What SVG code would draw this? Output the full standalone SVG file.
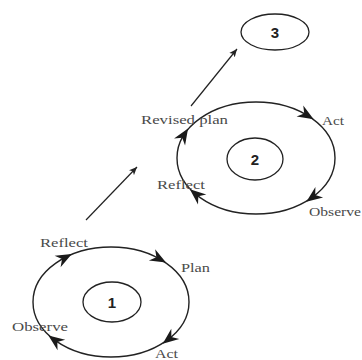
<svg xmlns="http://www.w3.org/2000/svg" width="362" height="360" viewBox="0 0 362 360">
<style>
.ring{fill:none;stroke:#222;stroke-width:1.4}
.core{fill:none;stroke:#222;stroke-width:1.3}
.lbl{font-family:"Liberation Serif","Times New Roman",serif;font-size:12px;fill:#4a4a4a}
.num{font-family:"Liberation Sans",Arial,sans-serif;font-size:15px;font-weight:bold;fill:#222;text-anchor:middle}
.ah{fill:#1a1a1a}
.link{stroke:#222;stroke-width:1.2;fill:none}
</style>
<defs>
<path id="barb" d="M8,0 L-8,-6.5 L-3,0 L-8,6.5 Z"/>
<marker id="tip" markerWidth="10" markerHeight="8" refX="8" refY="4" orient="auto" markerUnits="userSpaceOnUse">
<path d="M0,0.5 L8,4 L0,7.5 L2,4 Z" fill="#222"/>
</marker>
</defs>
<rect width="362" height="360" fill="#fff"/>
<g id="connectors">
<line class="link" x1="86" y1="220" x2="137" y2="167" marker-end="url(#tip)"/>
<line class="link" x1="191" y1="106" x2="237" y2="49" marker-end="url(#tip)"/>
</g>
<g id="cycle1">
<ellipse class="ring" cx="111" cy="302" rx="78" ry="55"/>
<use href="#barb" class="ah" transform="translate(64.7,257.7) rotate(-27.5)"/>
<use href="#barb" class="ah" transform="translate(159,258.7) rotate(29)"/>
<use href="#barb" class="ah" transform="translate(169,338.8) rotate(142)"/>
<use href="#barb" class="ah" transform="translate(54.9,340.2) rotate(216)"/>
<text class="lbl" x="40" y="247" textLength="48" lengthAdjust="spacingAndGlyphs">Reflect</text>
<text class="lbl" x="181" y="272" textLength="29" lengthAdjust="spacingAndGlyphs">Plan</text>
<text class="lbl" x="12" y="331" textLength="56" lengthAdjust="spacingAndGlyphs">Observe</text>
<text class="lbl" x="155" y="358" textLength="23" lengthAdjust="spacingAndGlyphs">Act</text>
</g>
<g id="node1">
<ellipse class="core" cx="112" cy="302" rx="29" ry="20"/>
<text class="num" x="112" y="307.5">1</text>
</g>
<g id="cycle2">
<ellipse class="ring" cx="256" cy="158" rx="79" ry="56"/>
<use href="#barb" class="ah" transform="translate(306.8,115.1) rotate(30.8)"/>
<use href="#barb" class="ah" transform="translate(312.8,196.9) rotate(143.7)"/>
<use href="#barb" class="ah" transform="translate(196,194.4) rotate(-140.3)"/>
<use href="#barb" class="ah" transform="translate(183.8,135.2) rotate(-57.9)"/>
<text class="lbl" x="141" y="124" textLength="87" lengthAdjust="spacingAndGlyphs">Revised plan</text>
<text class="lbl" x="322" y="125" textLength="22" lengthAdjust="spacingAndGlyphs">Act</text>
<text class="lbl" x="157" y="189" textLength="48" lengthAdjust="spacingAndGlyphs">Reflect</text>
<text class="lbl" x="309" y="216" textLength="52" lengthAdjust="spacingAndGlyphs">Observe</text>
</g>
<g id="node2">
<ellipse class="core" cx="255" cy="159" rx="28" ry="21"/>
<text class="num" x="255" y="164.5">2</text>
</g>
<g id="node3">
<ellipse class="core" cx="275" cy="32" rx="34" ry="18"/>
<text class="num" x="275" y="37.5">3</text>
</g>
</svg>
